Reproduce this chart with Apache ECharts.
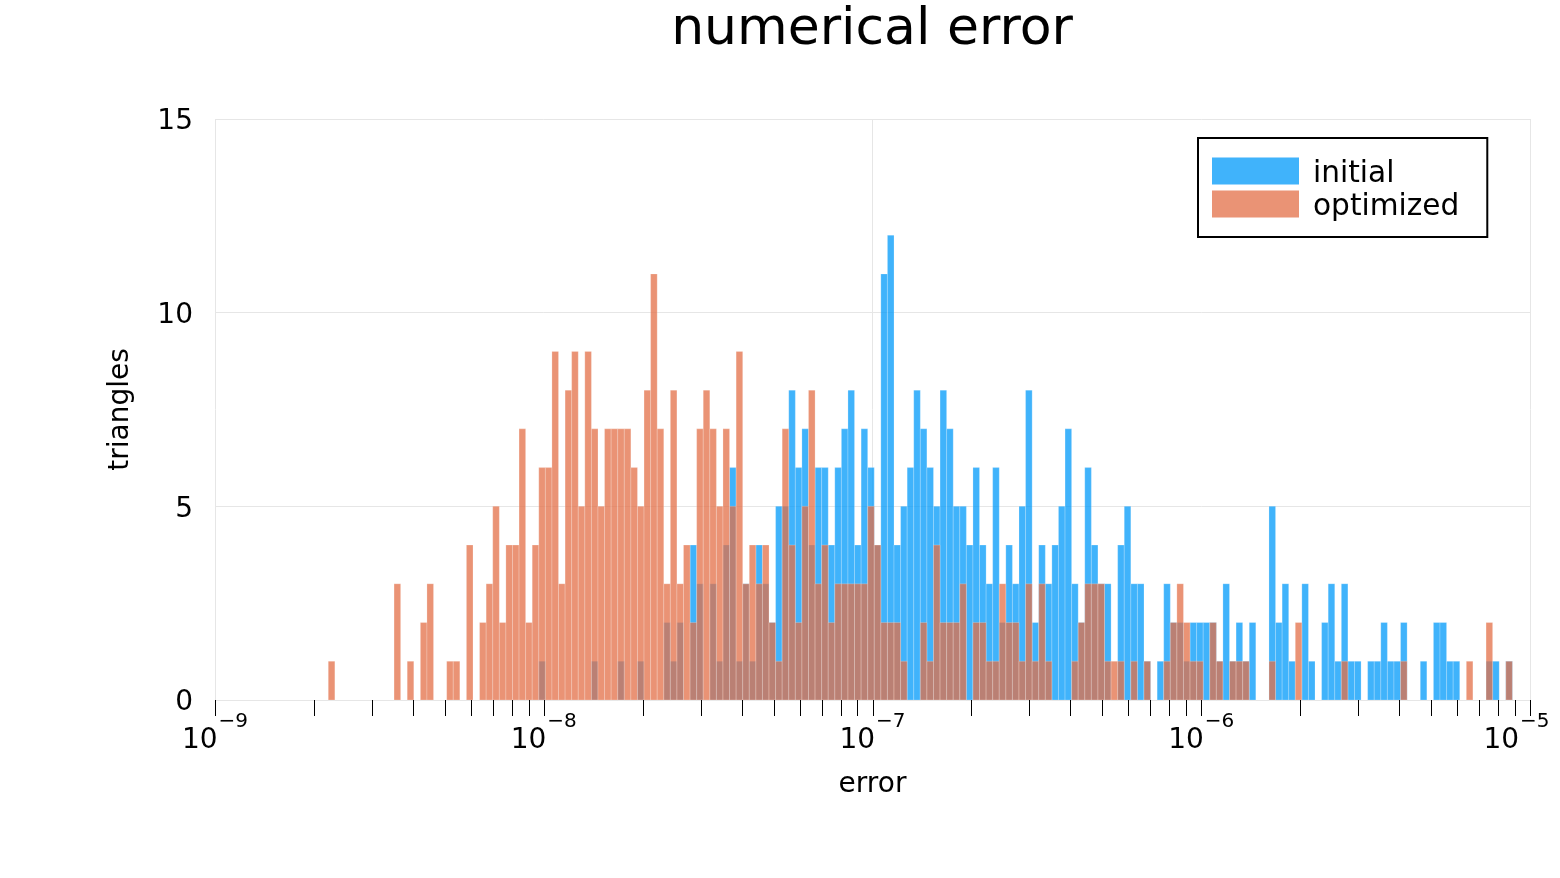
<!DOCTYPE html>
<html><head><meta charset="utf-8">
<script src="https://cdn.jsdelivr.net/npm/echarts@6/dist/echarts.min.js"></script>
<style>html,body{margin:0;padding:0;background:#fff}#c{width:1560px;height:878px}</style>
</head><body><div id="c"></div>
<script>
const titleText = 'numerical error';
const xAxisName = 'error';
const yAxisName = 'triangles';
const seriesNames = ['initial', 'optimized'];
// histogram bins in log10(error) space
const binLog10Start = -8.9956;
const binLog10Width = 0.02001;
const initialCounts = [
  0,0,0,0,0,0,0,0,0,0,
  0,0,0,0,0,0,0,0,0,0,
  0,0,0,0,0,0,0,0,0,0,
  0,0,0,0,0,0,0,0,0,0,
  0,0,0,0,0,0,0,0,0,1,
  0,0,0,0,0,0,0,1,0,0,
  0,1,0,0,1,0,0,0,2,1,
  2,0,4,3,0,3,1,4,6,1,
  3,1,4,3,2,5,5,8,6,7,
  4,6,6,4,6,7,8,4,7,6,
  4,11,12,4,5,6,8,7,6,5,
  8,7,5,5,4,6,4,3,6,2,
  4,3,5,8,2,4,3,4,5,7,
  3,2,6,4,3,3,0,4,5,3,
  3,1,0,1,3,2,2,1,2,2,
  2,2,1,3,1,2,1,2,0,0,
  5,2,3,1,0,3,1,0,2,3,
  1,3,1,1,0,1,1,2,1,1,
  2,0,0,1,0,2,2,1,1,0,
  0,0,0,1,1,0,1,0,0,0
];
const optimizedCounts = [
  0,0,0,0,0,0,0,0,0,0,
  0,0,0,0,0,0,0,1,0,0,
  0,0,0,0,0,0,0,3,0,1,
  0,2,3,0,0,1,1,0,4,0,
  2,3,5,2,4,4,7,2,4,6,
  6,9,3,8,9,5,9,7,5,7,
  7,7,7,6,5,8,11,7,3,8,
  3,4,2,7,8,7,5,7,5,9,
  3,4,3,4,2,1,7,4,2,5,
  8,3,4,2,3,3,3,3,3,5,
  4,2,2,2,1,0,0,2,1,4,
  2,2,2,3,0,2,2,1,1,3,
  2,2,1,3,1,3,1,0,0,0,
  1,2,3,3,3,1,1,1,0,1,
  0,1,0,0,1,2,3,2,1,1,
  0,2,1,0,1,1,1,0,0,0,
  1,0,0,0,2,0,0,0,0,0,
  0,1,0,0,0,0,0,0,0,0,
  1,0,0,0,0,0,0,0,0,0,
  1,0,0,2,0,0,1,0,0,0
];
const xTickExponents = [-9, -8, -7, -6, -5];
const tickMultipliers = [1, 2, 3, 4, 5, 6, 7, 8, 9];
const yTicks = [0, 5, 10, 15];

const FONT = 'DejaVu Sans';
const colors = ['rgba(0,154,250,0.75)', 'rgba(227,111,71,0.75)'];

function binData(counts) {
  const out = [];
  counts.forEach((c, k) => {
    if (c > 0) {
      const x0 = binLog10Start + k * binLog10Width;
      out.push([x0, x0 + binLog10Width, c]);
    }
  });
  return out;
}
const tickValues = [];
xTickExponents.forEach((e, i) => {
  if (i === xTickExponents.length - 1) { tickValues.push([e]); return; }
  tickMultipliers.forEach(m => tickValues.push([e + Math.log10(m)]));
});
const xMin = xTickExponents[0], xMax = xTickExponents[xTickExponents.length - 1];

function barRender(params, api) {
  const x0 = api.value(0), x1 = api.value(1), c = api.value(2);
  const p0 = api.coord([x0, c]);
  const p1 = api.coord([x1, 0]);
  return {
    type: 'rect',
    shape: { x: p0[0], y: p0[1], width: p1[0] - p0[0], height: p1[1] - p0[1] },
    style: { fill: api.visual('color'), stroke: 'rgba(255,255,255,0.35)', lineWidth: 0.6 }
  };
}
function tickRender(params, api) {
  const p = api.coord([api.value(0), 0]);
  const x = Math.round(p[0]) + 0.5;
  return {
    type: 'line',
    shape: { x1: x, y1: p[1], x2: x, y2: p[1] + 16 },
    style: { stroke: '#000', lineWidth: 1 }
  };
}

const chart = echarts.init(document.getElementById('c'), null, { renderer: 'canvas' });
chart.setOption({
  backgroundColor: '#fff',
  animation: false,
  textStyle: { fontFamily: FONT },
  graphic: [{
    type: 'text', x: 872, y: 30,
    style: { text: titleText, font: '52px "DejaVu Sans"', fill: '#000', textAlign: 'center', textVerticalAlign: 'middle' }
  }],
  grid: { left: 215, right: 30, top: 119, bottom: 178, outerBoundsMode: 'none', containLabel: false },
  legend: {
    orient: 'vertical', left: 1198, top: 138,
    data: seriesNames,
    icon: 'rect', itemWidth: 87, itemHeight: 27, itemGap: -3,
    padding: [15, 28, 15, 14],
    borderColor: '#000', borderWidth: 2,
    itemStyle: { borderWidth: 0 },
    formatter: name => '{t|' + name + '}',
    textStyle: {
      fontFamily: FONT, fontSize: 29.6, color: '#000',
      rich: { t: { fontFamily: FONT, fontSize: 29.6, color: '#000', lineHeight: 20, padding: [6, 0, 0, 9] } }
    }
  },
  xAxis: [{
    type: 'value', min: xMin, max: xMax, interval: 1,
    name: xAxisName, nameLocation: 'middle', nameGap: 71,
    nameTextStyle: { fontFamily: FONT, fontSize: 28, color: '#000' },
    axisLine: { show: false }, axisTick: { show: false },
    splitLine: { show: false },
    axisLabel: {
      margin: 12, color: '#000',
      formatter: v => {
        const e = Math.round(v);
        const sup = (e < 0 ? '\u2212' : '') + Math.abs(e);
        return '{b|10}{' + (e === xMax ? 'se' : 's') + '|' + sup + '}';
      },
      rich: {
        b: { fontFamily: FONT, fontSize: 28, color: '#000' },
        s: { fontFamily: FONT, fontSize: 20, color: '#000', padding: [0, 0, 38, 1] },
        se: { fontFamily: FONT, fontSize: 20, color: '#000', padding: [0, 27, 38, 1] }
      }
    }
  }, {
    type: 'value', position: 'top', min: xMin, max: xMax, interval: 2,
    axisLine: { show: false }, axisTick: { show: false }, axisLabel: { show: false },
    splitLine: { show: true, lineStyle: { color: '#e6e6e6', width: 1 } }
  }],
  yAxis: {
    type: 'value', min: yTicks[0], max: yTicks[yTicks.length - 1], interval: 5,
    name: yAxisName, nameLocation: 'middle', nameGap: 80,
    nameTextStyle: { fontFamily: FONT, fontSize: 28, color: '#000' },
    axisLine: { show: false }, axisTick: { show: false },
    splitLine: { show: true, lineStyle: { color: '#e6e6e6', width: 1 } },
    axisLabel: {
      margin: 22, color: '#000',
      formatter: v => '{a|' + v + '}',
      rich: { a: { fontFamily: FONT, fontSize: 28, color: '#000', padding: [6, 0, 0, 0] } }
    }
  },
  series: [
    {
      type: 'custom', name: seriesNames[0], renderItem: barRender,
      itemStyle: { color: colors[0] }, encode: { x: [0, 1], y: 2 },
      data: binData(initialCounts), z: 2
    },
    {
      type: 'custom', name: seriesNames[1], renderItem: barRender,
      itemStyle: { color: colors[1] }, encode: { x: [0, 1], y: 2 },
      data: binData(optimizedCounts), z: 3
    },
    {
      type: 'custom', name: 'ticks', renderItem: tickRender, clip: false,
      encode: { x: 0 }, data: tickValues, silent: true, z: 4
    }
  ]
});
</script></body></html>
